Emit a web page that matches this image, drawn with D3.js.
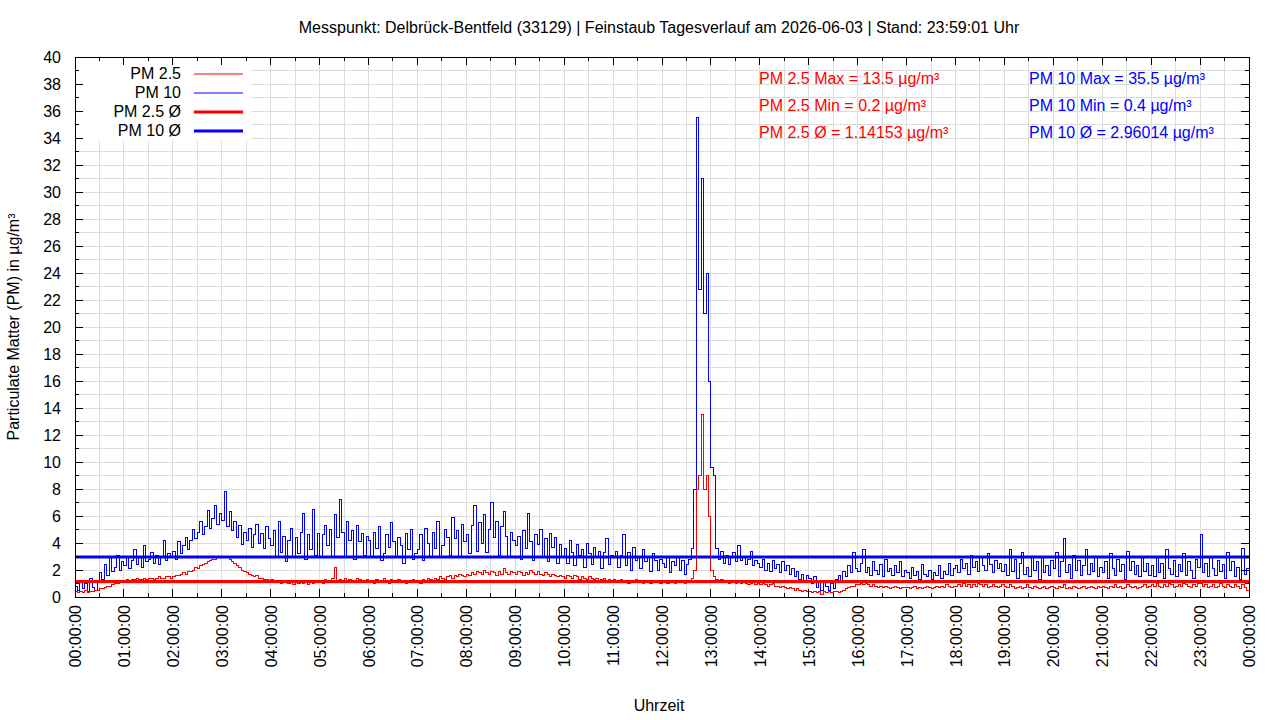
<!DOCTYPE html>
<html>
<head>
<meta charset="utf-8">
<script src="https://cdn.jsdelivr.net/npm/d3@7"></script>
<style>
  body { margin: 0; background: #fff; }
  text { font-family: "Liberation Sans", Arial, sans-serif; }
</style>
</head>
<body>
<div id="chart"></div>
<script>
const title = "Messpunkt: Delbrück-Bentfeld (33129) | Feinstaub Tagesverlauf am 2026-06-03 | Stand: 23:59:01 Uhr";
const yLabel = "Particulate Matter (PM) in µg/m³";
const xLabel = "Uhrzeit";

// one sample every 3 minutes, one row per hour
const sampleStep = 3;
const pm10 = [
  0.8,0.5,1.2,0.6,1.0,0.4,1.4,0.7,0.5,1.1,1.8,1.3,2.4,1.6,2.9,1.9,2.2,3.1,2.0,2.6,
  2.3,3.0,2.1,2.7,3.5,2.4,2.9,2.2,3.8,2.6,2.8,3.3,2.5,3.1,2.4,2.9,4.2,2.7,3.2,2.9,
  3.4,2.8,4.1,3.2,3.8,4.4,3.5,4.2,5.0,4.3,4.8,5.6,4.6,5.2,6.4,5.1,5.8,6.8,5.4,6.2,
  5.7,7.8,5.2,6.3,4.9,5.6,4.4,5.3,3.9,4.8,4.2,5.1,3.7,4.6,5.4,4.0,4.7,3.6,5.2,4.3,
  3.8,4.9,2.9,5.6,3.3,4.5,2.6,4.2,5.1,3.0,4.4,3.2,4.8,6.2,2.8,4.6,3.5,6.5,3.1,4.7,
  3.0,4.6,5.3,3.8,5.0,2.9,6.1,4.4,7.2,4.8,3.0,5.6,4.2,4.9,2.8,5.3,4.1,4.7,3.1,4.5,
  4.2,3.0,4.8,3.6,5.2,2.7,3.2,4.6,3.7,5.5,4.1,2.9,4.4,3.8,2.5,4.7,3.5,5.0,2.8,3.2,
  3.5,4.6,2.7,5.1,4.0,3.0,4.8,3.6,5.6,2.9,3.8,5.0,4.4,3.1,5.9,4.3,4.9,3.0,5.4,4.1,
  4.6,3.2,5.3,6.8,3.4,5.5,4.0,6.1,3.3,5.0,7.0,4.4,5.6,3.1,5.2,6.3,4.5,2.9,4.8,4.2,
  3.8,4.5,2.8,4.9,3.6,6.2,4.1,2.7,4.6,3.9,5.0,3.0,4.3,2.6,4.7,3.7,4.4,2.5,3.9,3.0,
  3.6,2.5,4.2,3.3,2.3,3.9,3.1,3.5,2.2,4.0,3.2,2.4,3.7,3.0,3.4,2.1,3.3,4.3,2.4,3.1,
  2.9,3.4,2.2,3.1,4.6,2.3,3.3,2.0,3.7,2.7,3.0,2.1,3.5,2.6,2.9,1.9,3.2,2.7,2.0,2.8,
  2.5,2.2,2.9,1.8,2.6,2.3,3.0,2.0,2.7,1.7,2.4,2.8,3.6,8.0,35.5,22.8,31.0,21.0,24.0,16.0,
  9.6,9.0,3.6,2.8,3.4,2.5,3.1,2.4,2.9,3.3,2.6,3.8,2.7,3.0,2.4,2.8,3.4,2.3,2.7,2.5,
  2.2,2.8,2.0,2.5,1.9,2.7,2.1,2.4,1.8,2.6,2.0,2.3,1.7,2.1,1.5,1.9,1.3,1.7,1.2,1.6,
  1.4,1.0,1.5,0.7,1.2,0.5,1.1,0.8,0.5,1.0,0.6,1.3,1.6,1.1,1.9,1.5,2.3,1.8,3.3,2.1,
  1.9,2.5,3.5,1.8,2.2,1.6,2.6,2.0,1.7,2.4,1.5,2.8,1.9,2.1,1.6,2.3,1.8,2.6,1.5,2.0,
  1.8,1.4,2.2,1.6,1.9,1.3,2.4,1.7,1.5,2.0,1.3,1.8,1.6,2.3,1.4,1.9,1.7,2.5,1.6,2.1,
  2.3,1.8,2.8,2.1,2.5,1.7,3.1,2.2,2.6,1.9,2.9,2.3,2.0,3.2,2.4,1.8,2.7,2.1,2.5,1.9,
  2.4,1.6,3.5,1.9,2.8,1.4,2.5,3.3,1.7,2.2,1.5,3.0,2.0,2.6,1.3,2.9,1.8,2.3,1.6,2.7,
  2.1,3.3,1.5,2.6,4.3,1.8,2.4,1.4,3.1,2.0,2.7,1.6,2.3,3.5,1.7,2.5,1.9,3.0,1.5,2.2,
  1.8,2.6,1.4,3.2,2.1,1.6,2.8,1.9,2.4,1.3,3.4,2.0,2.6,1.7,2.3,1.5,2.9,1.9,2.5,1.6,
  2.3,1.5,3.0,1.8,2.5,1.4,3.5,2.1,1.7,2.7,1.5,2.4,1.9,3.2,1.6,2.6,2.0,1.4,2.8,2.2,
  4.6,1.8,2.5,1.5,3.0,2.1,1.6,2.7,1.9,2.4,1.4,3.3,2.0,2.6,1.5,2.2,1.3,3.6,1.7,2.1
];
const pm25 = [
  0.4,0.3,0.4,0.3,0.5,0.3,0.4,0.4,0.5,0.5,0.6,0.6,0.7,0.8,0.8,0.9,1.0,1.0,1.1,1.2,
  1.2,1.3,1.2,1.3,1.3,1.4,1.3,1.3,1.4,1.3,1.4,1.4,1.3,1.4,1.5,1.4,1.4,1.5,1.5,1.4,
  1.5,1.6,1.6,1.7,1.8,1.7,1.9,1.9,2.0,2.2,2.1,2.3,2.4,2.5,2.6,2.7,2.8,2.8,2.9,3.0,
  3.0,2.9,3.0,2.8,2.6,2.5,2.3,2.2,2.0,1.9,1.8,1.7,1.6,1.5,1.6,1.4,1.4,1.3,1.3,1.2,
  1.3,1.2,1.1,1.2,1.0,1.1,1.2,1.0,1.1,0.9,1.1,1.0,1.2,1.0,1.1,0.9,1.1,1.0,1.2,1.1,
  1.2,1.0,1.3,1.1,1.2,1.4,2.2,1.2,1.3,1.1,1.4,1.2,1.3,1.1,1.2,1.4,1.3,1.1,1.2,1.3,
  1.1,1.2,1.0,1.3,1.2,1.1,1.4,1.2,1.0,1.3,1.1,1.2,1.3,1.1,1.2,1.0,1.2,1.1,1.3,1.2,
  1.2,1.0,1.3,1.2,1.4,1.3,1.2,1.4,1.3,1.5,1.4,1.3,1.5,1.6,1.4,1.6,1.5,1.7,1.6,1.5,
  1.7,1.6,1.8,1.7,1.9,1.8,1.7,2.0,1.8,1.7,1.9,1.8,1.6,1.9,1.7,2.1,1.8,1.7,1.9,1.8,
  1.7,1.9,1.8,1.6,1.8,1.7,2.0,1.8,1.7,1.9,1.7,1.6,1.8,1.7,1.5,1.7,1.6,1.5,1.6,1.5,
  1.4,1.6,1.5,1.4,1.6,1.5,1.3,1.5,1.4,1.3,1.5,1.4,1.3,1.4,1.2,1.3,1.4,1.2,1.3,1.2,
  1.3,1.1,1.2,1.3,1.1,1.2,1.0,1.2,1.1,1.3,1.1,1.2,1.0,1.1,1.2,1.0,1.1,1.2,1.1,1.0,
  1.1,1.2,1.0,1.1,1.2,1.0,1.1,1.2,1.1,1.0,1.1,1.2,1.4,2.0,8.0,9.0,13.5,8.0,9.0,6.0,
  2.0,1.5,1.3,1.2,1.3,1.1,1.2,1.0,1.1,1.2,1.0,1.1,1.0,1.1,1.0,0.9,1.0,1.1,0.9,1.0,
  0.9,1.0,0.9,0.8,0.9,1.0,0.8,0.8,0.7,0.8,0.7,0.6,0.7,0.6,0.5,0.6,0.5,0.4,0.5,0.4,
  0.4,0.3,0.4,0.3,0.4,0.2,0.4,0.3,0.4,0.3,0.4,0.4,0.3,0.4,0.5,0.6,0.7,0.8,0.8,0.9,
  0.9,1.0,0.9,1.0,0.9,0.8,0.9,0.8,0.7,0.8,0.7,0.8,0.7,0.6,0.7,0.8,0.7,0.6,0.7,0.7,
  0.7,0.6,0.7,0.8,0.6,0.7,0.6,0.7,0.8,0.7,0.6,0.7,0.8,0.7,0.8,0.7,0.9,0.8,0.7,0.8,
  0.8,0.9,0.8,1.0,0.8,0.9,0.7,0.9,0.8,1.0,0.9,0.8,0.9,0.7,0.8,0.9,0.8,0.7,0.8,0.9,
  0.8,0.7,0.9,0.8,0.6,0.7,0.8,0.6,0.7,0.9,0.7,0.6,0.8,0.7,0.6,0.7,0.8,0.6,0.7,0.8,
  0.7,0.6,0.8,0.7,0.9,0.6,0.7,0.6,0.8,0.7,0.6,0.7,0.8,0.6,0.7,0.8,0.7,0.6,0.8,0.7,
  0.8,0.7,0.6,0.8,0.7,0.9,0.7,0.8,0.6,0.7,0.9,0.8,0.7,0.8,0.6,0.7,0.8,0.9,0.7,0.8,
  0.9,0.8,1.0,0.8,0.7,0.9,0.8,1.0,0.9,0.7,0.8,0.9,0.8,1.0,0.9,0.8,0.7,0.9,0.8,1.0,
  1.0,0.8,0.9,0.7,0.8,0.9,0.7,0.8,1.0,0.8,0.7,0.9,0.8,0.7,0.9,0.8,0.6,0.9,0.7,0.5
];

// summary values as printed on the chart
const pm25Stats = { max: 13.5, min: 0.2, avg: 1.14153 };
const pm10Stats = { max: 35.5, min: 0.4, avg: 2.96014 };

const legendNames = ["PM 2.5", "PM 10", "PM 2.5 Ø", "PM 10 Ø"];
const red = "#ff0000";
const blue = "#0000ff";

const width = 1280;
const height = 720;
const margin = { top: 57, right: 31, bottom: 123, left: 75 };

const svg = d3.select("#chart")
  .append("svg")
  .attr("width", width)
  .attr("height", height);

const x = d3.scaleLinear()
  .domain([0, 24 * 60])
  .range([margin.left, width - margin.right]);

const y = d3.scaleLinear()
  .domain([0, 40])
  .range([height - margin.bottom, margin.top]);

const x0 = x.range()[0], x1 = x.range()[1];
const y0 = y.range()[0], y1 = y.range()[1];

// grid (every half hour / every 1 µg)
const grid = svg.append("g")
  .attr("stroke", "#dcdcdc")
  .attr("stroke-width", 1)
  .attr("shape-rendering", "crispEdges");
grid.selectAll("line.v")
  .data(d3.range(30, 24 * 60, 30))
  .join("line")
  .attr("x1", d => x(d)).attr("x2", d => x(d))
  .attr("y1", y0).attr("y2", y1);
grid.selectAll("line.h")
  .data(d3.range(1, 40, 1))
  .join("line")
  .attr("x1", x0).attr("x2", x1)
  .attr("y1", d => y(d)).attr("y2", d => y(d));

// series
const pts10 = pm10.map((v, i) => [i * sampleStep, v]);
const pts25 = pm25.map((v, i) => [i * sampleStep, v]);
pts10.push([24 * 60, pm10[pm10.length - 1]]);
pts25.push([24 * 60, pm25[pm25.length - 1]]);

const line = d3.line()
  .x(d => x(d[0]))
  .y(d => y(d[1]))
  .curve(d3.curveStepAfter);

svg.append("path")
  .datum(pts10)
  .attr("d", line)
  .attr("fill", "none")
  .attr("stroke", blue)
  .attr("stroke-width", 1)
  .attr("shape-rendering", "crispEdges");

svg.append("path")
  .datum(pts25)
  .attr("d", line)
  .attr("fill", "none")
  .attr("stroke", red)
  .attr("stroke-width", 1)
  .attr("shape-rendering", "crispEdges");

// averages
svg.append("line")
  .attr("x1", x0).attr("x2", x1)
  .attr("y1", y(pm25Stats.avg)).attr("y2", y(pm25Stats.avg))
  .attr("stroke", red).attr("stroke-width", 3);
svg.append("line")
  .attr("x1", x0).attr("x2", x1)
  .attr("y1", y(pm10Stats.avg)).attr("y2", y(pm10Stats.avg))
  .attr("stroke", blue).attr("stroke-width", 3);

// legend box hides the grid behind it
const legend = svg.append("g");
legend.append("rect")
  .attr("x", x0 + 1).attr("y", y1 + 1)
  .attr("width", 175).attr("height", 83)
  .attr("fill", "#fff");
const legendStyles = [
  { color: red, w: 1 }, { color: blue, w: 1 },
  { color: red, w: 3 }, { color: blue, w: 3 }
];
legendNames.forEach((name, i) => {
  const ly = 74 + i * 19;
  legend.append("text")
    .attr("x", 181).attr("y", ly + 5)
    .attr("text-anchor", "end")
    .attr("font-size", 16)
    .attr("fill", "#000")
    .text(name);
  legend.append("line")
    .attr("x1", 194).attr("x2", 243)
    .attr("y1", ly).attr("y2", ly)
    .attr("stroke", legendStyles[i].color)
    .attr("stroke-width", legendStyles[i].w);
});

// border
svg.append("rect")
  .attr("x", x0).attr("y", y1)
  .attr("width", x1 - x0).attr("height", y0 - y1)
  .attr("fill", "none")
  .attr("stroke", "#000")
  .attr("stroke-width", 1)
  .attr("shape-rendering", "crispEdges");

// ticks on all four sides
const ticks = svg.append("g")
  .attr("stroke", "#000")
  .attr("stroke-width", 1)
  .attr("shape-rendering", "crispEdges");
d3.range(30, 24 * 60, 30).forEach(t => {
  const len = t % 60 === 0 ? 8 : 4;
  ticks.append("line").attr("x1", x(t)).attr("x2", x(t)).attr("y1", y0).attr("y2", y0 - len);
  ticks.append("line").attr("x1", x(t)).attr("x2", x(t)).attr("y1", y1).attr("y2", y1 + len);
});
d3.range(1, 40, 1).forEach(v => {
  const len = v % 2 === 0 ? 8 : 4;
  ticks.append("line").attr("x1", x0).attr("x2", x0 + len).attr("y1", y(v)).attr("y2", y(v));
  ticks.append("line").attr("x1", x1).attr("x2", x1 - len).attr("y1", y(v)).attr("y2", y(v));
});

// y tick labels
svg.append("g")
  .selectAll("text")
  .data(d3.range(0, 41, 2))
  .join("text")
  .attr("x", x0 - 14)
  .attr("y", d => y(d) + 6)
  .attr("text-anchor", "end")
  .attr("font-size", 16)
  .text(d => d);

// x tick labels, rotated
const hourFmt = h => String(h % 24).padStart(2, "0") + ":00:00";
svg.append("g")
  .selectAll("text")
  .data(d3.range(0, 25, 1))
  .join("text")
  .attr("transform", h => `translate(${x(h * 60) + 6},${y0 + 8}) rotate(-90)`)
  .attr("text-anchor", "end")
  .attr("font-size", 16)
  .text(hourFmt);

// titles
svg.append("text")
  .attr("x", 659).attr("y", 33)
  .attr("text-anchor", "middle")
  .attr("font-size", 16)
  .text(title);
svg.append("text")
  .attr("x", 659).attr("y", 711)
  .attr("text-anchor", "middle")
  .attr("font-size", 16)
  .text(xLabel);
svg.append("text")
  .attr("transform", "translate(19,327) rotate(-90)")
  .attr("text-anchor", "middle")
  .attr("font-size", 16)
  .text(yLabel);

// stats
const statLines = (name, s) => [
  `${name} Max = ${s.max} µg/m³`,
  `${name} Min = ${s.min} µg/m³`,
  `${name} Ø = ${s.avg} µg/m³`
];
statLines("PM 2.5", pm25Stats).forEach((t, i) => {
  svg.append("text").attr("x", 759).attr("y", 84 + i * 27)
    .attr("font-size", 16).attr("fill", red).text(t);
});
statLines("PM 10", pm10Stats).forEach((t, i) => {
  svg.append("text").attr("x", 1029).attr("y", 84 + i * 27)
    .attr("font-size", 16).attr("fill", blue).text(t);
});
</script>
</body>
</html>
